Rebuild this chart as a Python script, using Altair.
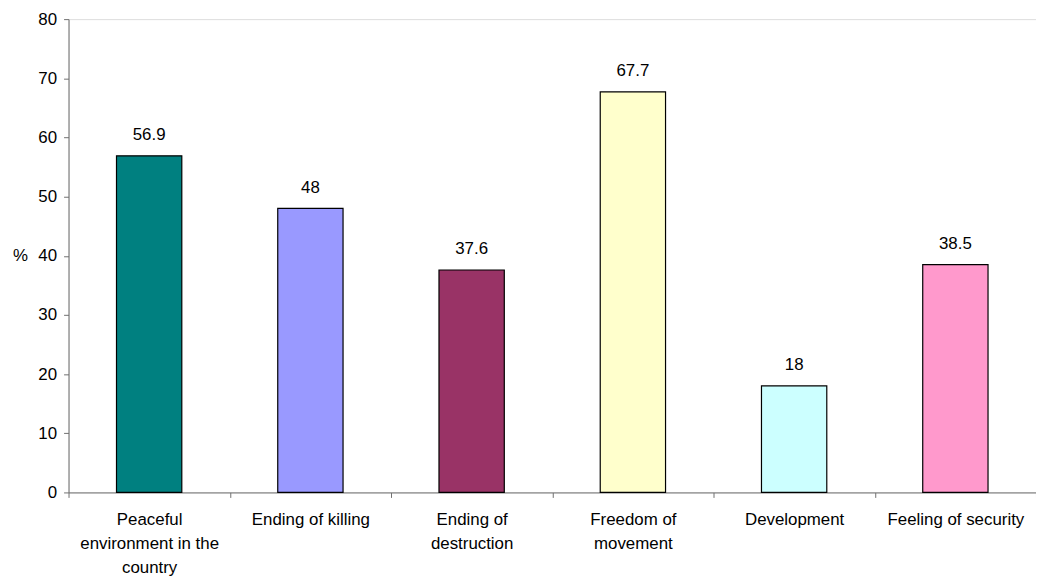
import altair as alt
import pandas as pd

categories = [
    "Peaceful environment in the country",
    "Ending of killing",
    "Ending of destruction",
    "Freedom of movement",
    "Development",
    "Feeling of security",
]
label_lines = [
    ["Peaceful", "environment in the", "country"],
    ["Ending of killing"],
    ["Ending of", "destruction"],
    ["Freedom of", "movement"],
    ["Development"],
    ["Feeling of security"],
]
values = [56.9, 48, 37.6, 67.7, 18, 38.5]
value_text = ["56.9", "48", "37.6", "67.7", "18", "38.5"]
colors = ["#008080", "#9999FF", "#993366", "#FFFFCC", "#CCFFFF", "#FF99CC"]
y_ticks = [0, 10, 20, 30, 40, 50, 60, 70, 80]

df = pd.DataFrame({"cat": categories, "val": values, "txt": value_text})

parts = []
for c, lines in zip(categories, label_lines):
    arr = "[" + ",".join("'" + l + "'" for l in lines) + "]"
    parts.append(f"datum.value == '{c}' ? {arr}")
label_expr = " : ".join(parts) + " : datum.label"

FONT = "Liberation Sans"
FS = 17

x_enc = alt.X(
    "cat:N",
    sort=categories,
    scale=alt.Scale(paddingInner=0, paddingOuter=0),
    axis=alt.Axis(
        title=None,
        labelAngle=0,
        labelExpr=label_expr,
        tickBand="extent",
        tickSize=5,
        labelPadding=14,
        labelLineHeight=24.5,
        labelFontSize=FS,
        labelFont=FONT,
        labelColor="#000000",
        domainColor="#707070",
        tickColor="#707070",
        labelBaseline="top",
    ),
)

y_enc = alt.Y(
    "val:Q",
    scale=alt.Scale(domain=[0, 80], nice=False),
    axis=alt.Axis(
        values=y_ticks,
        title="%",
        titleAngle=0,
        titleX=-49,
        titleY=238,
        titleAlign="center",
        titleBaseline="middle",
        titleFont=FONT,
        titleFontSize=FS,
        titleFontWeight="normal",
        titleColor="#000000",
        grid=False,
        tickSize=5,
        labelPadding=7,
        labelFontSize=FS,
        labelFont=FONT,
        labelColor="#000000",
        domainColor="#707070",
        tickColor="#707070",
    ),
)

bars = alt.Chart(df).mark_bar(
    width=alt.RelativeBandSize(0.405),
    stroke="#000000",
    strokeWidth=1.2,
).encode(
    x=x_enc,
    y=y_enc,
    color=alt.Color("cat:N", scale=alt.Scale(domain=categories, range=colors), legend=None),
)

texts = alt.Chart(df).mark_text(
    baseline="alphabetic",
    dy=-16,
    fontSize=FS,
    font=FONT,
    color="#000000",
).encode(
    x=alt.X("cat:N", sort=categories),
    y=alt.Y("val:Q"),
    text="txt:N",
)

chart = (
    alt.layer(bars, texts)
    .properties(
        width=975,
        height=477,
        autosize=alt.AutoSizeParams(type="none"),
        padding={"left": 61, "top": 9, "right": 0, "bottom": 82},
    )
    .configure_view(stroke=None)
    .configure(background="#FFFFFF")
)

chart.save("out.html", embed_options={"renderer": "svg", "actions": False})
